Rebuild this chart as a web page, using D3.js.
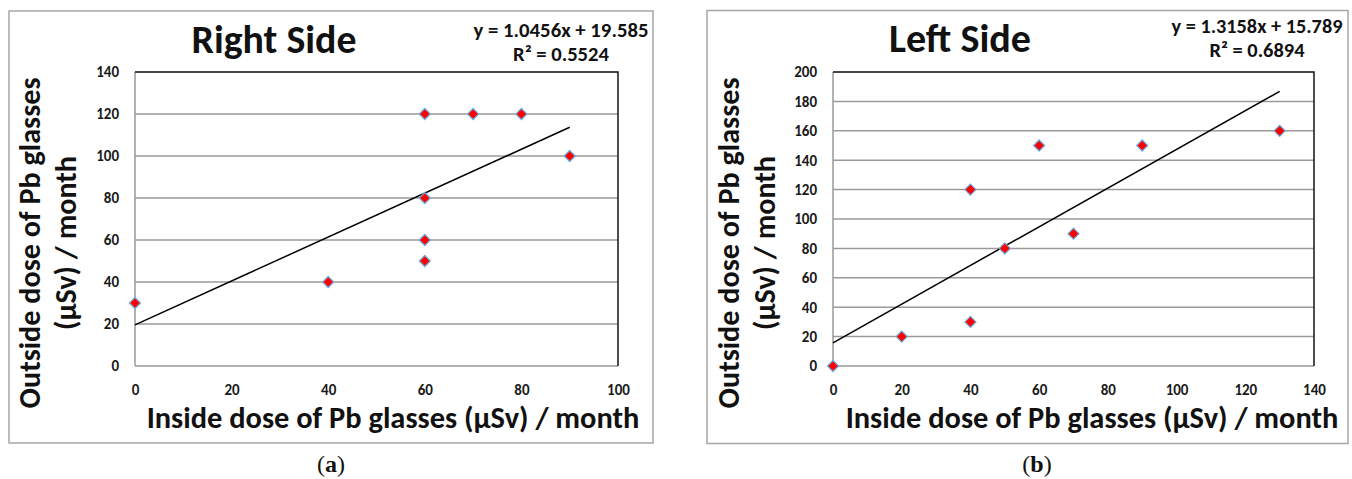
<!DOCTYPE html>
<html>
<head>
<meta charset="utf-8">
<script src="https://cdn.jsdelivr.net/npm/d3@7"></script>
<style>
  body { margin: 0; background: #fff; }
  svg { display: block; }
</style>
</head>
<body>
<svg id="chart" width="1352" height="479"></svg>
<script>
// data
const rightTitle = 'Right Side';
const rightX = [0, 40, 60, 60, 60, 60, 70, 80, 90];
const rightY = [30, 40, 120, 80, 60, 50, 120, 120, 100];
const rightFit = [1.0456, 19.585, 0.5524]; // slope, intercept, R²
const rightXTicks = [0, 20, 40, 60, 80, 100];
const rightYTicks = [0, 20, 40, 60, 80, 100, 120, 140];

const leftTitle = 'Left Side';
const leftX = [0, 20, 40, 40, 50, 60, 70, 90, 130];
const leftY = [0, 20, 120, 30, 80, 150, 90, 150, 160];
const leftFit = [1.3158, 15.789, 0.6894];
const leftXTicks = [0, 20, 40, 60, 80, 100, 120, 140];
const leftYTicks = [0, 20, 40, 60, 80, 100, 120, 140, 160, 180, 200];

const xLabel = 'Inside dose of Pb glasses (µSv) / month';
const yLabel1 = 'Outside dose of Pb glasses';
const yLabel2 = '(µSv) / month';

const FONT = "Carlito, Calibri, Lato, 'Open Sans', sans-serif";
const svg = d3.select('#chart');

// shrink/grow a text's font size so it spans a given width
function fitWidth(sel, w) {
  const cur = sel.node().getComputedTextLength();
  const fs = parseFloat(sel.attr('font-size'));
  sel.attr('font-size', fs * w / cur);
}

function panel(o) {
  const g = svg.append('g');
  g.append('rect')
    .attr('x', o.box[0]).attr('y', o.box[1])
    .attr('width', o.box[2]).attr('height', o.box[3])
    .attr('fill', '#fff').attr('stroke', '#a6a6a6').attr('stroke-width', 1.5);

  const x = d3.scaleLinear().domain(d3.extent(o.xTicks)).range([o.plot[0], o.plot[2]]);
  const y = d3.scaleLinear().domain(d3.extent(o.yTicks)).range([o.plot[3], o.plot[1]]);

  // gridlines
  g.append('g').selectAll('line').data(o.yTicks).join('line')
    .attr('x1', o.plot[0]).attr('x2', o.plot[2])
    .attr('y1', d => y(d)).attr('y2', d => y(d))
    .attr('stroke', '#9a9a9a').attr('stroke-width', 1.5);
  // plot frame: left gray, top & right dark
  g.append('line').attr('x1', x.range()[0]).attr('x2', x.range()[0])
    .attr('y1', y.range()[0]).attr('y2', y.range()[1])
    .attr('stroke', '#9a9a9a').attr('stroke-width', 1.5);
  g.append('path')
    .attr('d', `M${x.range()[0]},${y.range()[1]}H${x.range()[1]}V${y.range()[0]}`)
    .attr('fill', 'none').attr('stroke', '#222').attr('stroke-width', 1.6);

  // axes (labels only)
  const yAxis = g.append('g').attr('transform', `translate(${o.plot[0] - 7},0)`)
    .call(d3.axisLeft(y).tickValues(o.yTicks).tickSize(0).tickPadding(9));
  const xAxis = g.append('g').attr('transform', `translate(0,${o.plot[3] + 13})`)
    .call(d3.axisBottom(x).tickValues(o.xTicks).tickSize(0).tickPadding(5));
  [yAxis, xAxis].forEach(a => {
    a.select('.domain').remove();
    a.selectAll('text').attr('font-family', FONT).attr('font-size', 15)
      .attr('font-weight', 'bold').attr('fill', '#1a1a1a');
  });

  // trendline
  const [m, b, r2] = o.fit;
  const ext = d3.extent(o.xs);
  g.append('line')
    .attr('x1', x(ext[0])).attr('y1', y(m * ext[0] + b))
    .attr('x2', x(ext[1])).attr('y2', y(m * ext[1] + b))
    .attr('stroke', '#000').attr('stroke-width', 1.5);

  // markers
  const sym = d3.symbol().type(d3.symbolDiamond2).size(78);
  g.append('g').selectAll('path').data(o.xs.map((v, i) => [v, o.ys[i]])).join('path')
    .attr('transform', d => `translate(${x(d[0])},${y(d[1])})`)
    .attr('d', sym)
    .attr('fill', '#ff0000').attr('stroke', '#6fa8dc').attr('stroke-width', 1.2);

  const txt = (px, py, s, fs, anchor) => g.append('text')
    .attr('x', px).attr('y', py).attr('font-family', FONT).attr('font-weight', 'bold')
    .attr('font-size', fs).attr('text-anchor', anchor || 'middle').attr('fill', '#111').text(s);

  fitWidth(txt(o.title[0], o.title[1], o.name, 36), o.title[2]);
  fitWidth(txt(o.eq[0], o.eq[1], `y = ${m}x + ${b}`, 18), o.eq[2]);
  fitWidth(txt(o.eq[0], o.eq[3], `R² = ${r2}`, 18), o.eq[4]);
  fitWidth(txt(o.xt[0], o.xt[1], xLabel, 25), o.xt[2]);

  const yt1 = txt(0, 0, yLabel1, 25).attr('transform', `translate(${o.yt[0]},${o.yt[2]}) rotate(-90)`);
  fitWidth(yt1, o.yt[3]);
  const yt2 = txt(0, 0, yLabel2, 25).attr('transform', `translate(${o.yt[1]},${o.yt[2]}) rotate(-90)`);
  yt2.attr('font-size', yt1.attr('font-size'));

  const cap = g.append('text').attr('x', o.cap[0]).attr('y', o.cap[1])
    .attr('text-anchor', 'middle').attr('font-family', "'Liberation Serif', serif")
    .attr('font-size', 24).attr('fill', '#111');
  cap.append('tspan').text('(');
  cap.append('tspan').attr('font-weight', 'bold').text(o.capLetter);
  cap.append('tspan').text(')');
}

panel({
  name: rightTitle, xs: rightX, ys: rightY, fit: rightFit,
  xTicks: rightXTicks, yTicks: rightYTicks,
  box: [9, 11, 644, 432], plot: [135, 72, 618, 366],
  title: [274, 53, 165], eq: [561, 37, 175, 61, 96],
  xt: [393, 428, 493], yt: [40, 76, 243, 331],
  cap: [331, 472], capLetter: 'a'
});

panel({
  name: leftTitle, xs: leftX, ys: leftY, fit: leftFit,
  xTicks: leftXTicks, yTicks: leftYTicks,
  box: [707, 10.5, 641, 433], plot: [833, 72, 1314, 366],
  title: [960, 52, 142], eq: [1257, 33, 171, 57, 95],
  xt: [1092, 428, 493], yt: [739, 775, 243, 331],
  cap: [1037, 472], capLetter: 'b'
});
</script>
</body>
</html>
